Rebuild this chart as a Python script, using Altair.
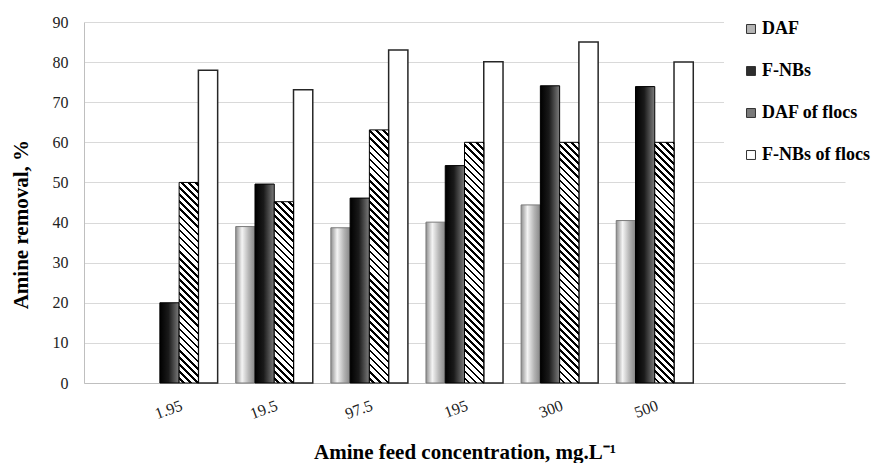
import math

import altair as alt
import pandas as pd

# Amine removal (%) for each feed concentration and separation method
concentrations = ["1.95", "19.5", "97.5", "195", "300", "500"]
series_names = ["DAF", "F-NBs", "DAF of flocs", "F-NBs of flocs"]
daf = [None, 39.0, 38.7, 40.1, 44.4, 40.5]
f_nbs = [20.0, 49.6, 46.1, 54.2, 74.1, 73.9]
daf_flocs = [50.0, 45.2, 63.1, 60.0, 60.0, 60.0]
f_nbs_flocs = [78.0, 73.1, 83.0, 80.1, 85.0, 80.0]
y_ticks = list(range(0, 91, 10))

SERIF = "Liberation Serif"
W, H = 761, 361
Y_MAX = 90
# the category axis keeps one empty slot on the left and two on the right
n_slots = len(concentrations) + 2
step = W / n_slots
group = step * 0.81
bar_w = group / len(series_names)

rows = []
for name, vals in zip(series_names, [daf, f_nbs, daf_flocs, f_nbs_flocs]):
    for conc, v in zip(concentrations, vals):
        if v is not None:
            rows.append({"conc": conc, "series": name, "value": v})
df = pd.DataFrame(rows)


def stop(offset, color):
    return alt.GradientStop(offset=round(offset, 5), color=color)


def hatch_fill(height_px, width_px=bar_w, period=5.0, line=1.9):
    """Diagonal black/white stripes as a hard-stop linear gradient."""
    span = (width_px + height_px) / math.sqrt(2)
    a = (width_px + height_px) / (width_px ** 2 + height_px ** 2)
    stops = [stop(0, "white")]
    pos = period / 2
    while pos < span:
        t0 = pos / span
        t1 = min((pos + line) / span, 1.0)
        stops += [stop(t0, "white"), stop(t0, "black"),
                  stop(t1, "black"), stop(t1, "white")]
        pos += period
    stops.append(stop(1, "white"))
    return alt.Gradient(gradient="linear", stops=stops,
                        x1=0, y1=1, x2=a * width_px, y2=1 - a * height_px)


daf_fill = alt.Gradient(
    gradient="linear", x1=0, y1=0, x2=1, y2=0,
    stops=[stop(0, "#8f8f8f"), stop(0.33, "#f4f4f4"),
           stop(0.68, "#b4b4b4"), stop(1, "#868686")],
)
fnbs_fill = alt.Gradient(
    gradient="linear", x1=0, y1=0, x2=1, y2=0,
    stops=[stop(0, "#000000"), stop(0.45, "#1a1a1a"), stop(1, "#7c7c7c")],
)

base = alt.Chart(df).encode(
    x=alt.X(
        "conc:N",
        # one slot of outer padding on each side, a quarter of it on the left
        scale=alt.Scale(domain=concentrations, paddingInner=0, paddingOuter=1,
                        align=0.25),
        axis=alt.Axis(
            title="Amine feed concentration, mg.L⁻¹",
            labelAngle=-20, labelAlign="right", labelBaseline="top",
            labelPadding=14, labelFont=SERIF,
            labelFontSize=16, labelColor="#222222", labelOverlap=False,
            ticks=False, grid=False, domainColor="#bfbfbf",
            titleFont=SERIF, titleFontSize=21, titleFontWeight="bold",
            titleColor="black", titlePadding=20,
        ),
    ),
    xOffset=alt.XOffset(
        "series:N",
        scale=alt.Scale(domain=series_names,
                        range=[(step - group) / 2, (step + group) / 2],
                        paddingInner=0, paddingOuter=0),
    ),
    y=alt.Y(
        "value:Q",
        scale=alt.Scale(domain=[0, Y_MAX], nice=False),
        axis=alt.Axis(
            values=y_ticks, title="Amine removal, %",
            ticks=False, grid=True, gridColor="#d9d9d9",
            domainColor="#bfbfbf", labelFont=SERIF, labelFontSize=16,
            labelColor="#222222", labelPadding=16,
            titleFont=SERIF, titleFontSize=21, titleFontWeight="bold",
            titleColor="black", titlePadding=21, titleY=H * 0.56,
        ),
    ),
)

# white bars carry the legend for all four series
white_bars = base.mark_bar(stroke="#262626", strokeWidth=1.5).encode(
    fill=alt.Fill(
        "series:N",
        scale=alt.Scale(domain=series_names,
                        range=["#b5b5b5", "#2e2e2e", "#7a7a7a", "#ffffff"]),
        legend=alt.Legend(
            title=None, orient="none", legendX=640, legendY=-20,
            direction="vertical", symbolType="square", symbolSize=80,
            symbolStrokeColor="#333333", symbolStrokeWidth=1,
            labelFont=SERIF, labelFontSize=18, labelFontWeight="bold",
            labelColor="black", labelOffset=2, labelLimit=200,
            rowPadding=24, padding=18, fillColor="white",
        ),
    )
).transform_filter(alt.datum.series == "F-NBs of flocs")

daf_bars = base.mark_bar(fill=daf_fill, stroke="#7a7a7a", strokeWidth=1).transform_filter(
    alt.datum.series == "DAF"
)
fnbs_bars = base.mark_bar(fill=fnbs_fill, stroke="#000000", strokeWidth=1).transform_filter(
    alt.datum.series == "F-NBs"
)

hatch_layers = []
for conc, v in zip(concentrations, daf_flocs):
    if v is None:
        continue
    h_px = v * H / Y_MAX
    hatch_layers.append(
        base.mark_bar(fill=hatch_fill(h_px), stroke="#000000", strokeWidth=1)
        .transform_filter((alt.datum.series == "DAF of flocs") & (alt.datum.conc == conc))
    )

chart = (
    alt.layer(white_bars, daf_bars, fnbs_bars, *hatch_layers)
    .properties(
        width=W, height=H,
        padding={"left": 84, "top": 22, "right": 26, "bottom": 80},
        autosize=alt.AutoSizeParams(type="none"),
        background="white",
    )
    .configure_view(strokeWidth=0)
)

chart.save("out.html", embed_options={"renderer": "svg", "actions": False})
